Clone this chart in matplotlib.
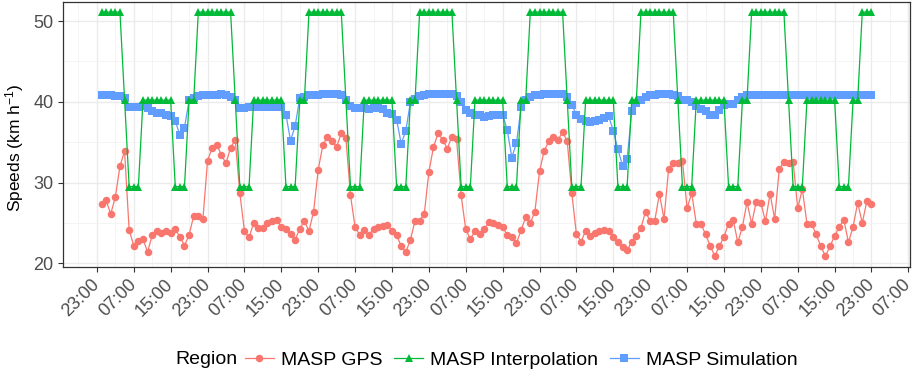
import pandas as pd
import matplotlib
matplotlib.use('Agg')
import matplotlib.pyplot as plt
import matplotlib.dates as mdates
from matplotlib.lines import Line2D

plt.rcParams['font.family'] = ['Liberation Sans', 'DejaVu Sans']
plt.rcParams['mathtext.fontset'] = 'custom'
plt.rcParams['mathtext.rm'] = 'Liberation Sans'
plt.rcParams['mathtext.it'] = 'Liberation Sans:italic'

# hourly timestamps, 7 days
start_time = '2016-01-04 00:00'
n_hours = 168

# MASP GPS speeds (km/h), one row per day
gps = [
    27.4, 27.8, 26.1, 28.2, 32.0, 33.9, 24.1, 22.2, 22.8, 23.0, 21.4, 23.5,
    24.0, 23.7, 24.0, 23.8, 24.2, 23.3, 22.2, 23.5, 25.9, 25.9, 25.5, 32.7,
    34.3, 34.7, 33.4, 32.4, 34.3, 35.3, 28.7, 24.0, 23.2, 25.0, 24.4, 24.4,
    25.0, 25.3, 25.4, 24.5, 24.2, 23.6, 22.9, 24.3, 25.2, 24.0, 26.4, 31.6,
    34.6, 35.7, 35.1, 34.4, 36.1, 35.5, 28.4, 24.5, 23.5, 24.1, 23.5, 24.3,
    24.5, 24.6, 24.8, 24.0, 23.5, 22.1, 21.4, 22.9, 25.3, 25.3, 26.1, 31.3,
    34.4, 36.1, 35.3, 34.2, 35.7, 35.4, 28.4, 24.2, 23.0, 24.0, 23.6, 24.2,
    25.1, 25.0, 24.7, 24.5, 23.5, 23.2, 22.5, 24.1, 25.7, 25.0, 26.4, 31.4,
    33.9, 35.1, 35.6, 35.3, 36.2, 35.2, 28.7, 23.6, 22.7, 24.0, 23.4, 23.7,
    24.0, 24.1, 24.0, 23.2, 22.6, 22.0, 21.6, 22.7, 23.4, 24.4, 26.4, 25.2,
    25.3, 28.6, 25.5, 31.7, 32.4, 32.4, 32.7, 26.8, 28.7, 24.9, 24.9, 23.6,
    22.2, 20.9, 22.1, 23.3, 24.9, 25.4, 22.6, 24.5, 27.6, 24.9, 27.6, 27.5,
    25.2, 28.6, 25.5, 31.7, 32.5, 32.4, 32.6, 26.8, 29.2, 24.9, 24.9, 23.6,
    22.1, 20.9, 22.1, 23.4, 24.5, 25.4, 22.6, 24.5, 27.5, 25.0, 27.7, 27.3,
]

# MASP Interpolation speeds
interp = [
    51.1, 51.1, 51.1, 51.1, 51.1, 40.2, 29.5, 29.5, 29.5, 40.2, 40.2, 40.2,
    40.2, 40.2, 40.2, 40.2, 29.5, 29.5, 29.5, 40.2, 40.2, 51.1, 51.1, 51.1,
    51.1, 51.1, 51.1, 51.1, 51.1, 40.2, 29.5, 29.5, 29.5, 40.2, 40.2, 40.2,
    40.2, 40.2, 40.2, 40.2, 29.5, 29.5, 29.5, 40.2, 40.2, 51.1, 51.1, 51.1,
    51.1, 51.1, 51.1, 51.1, 51.1, 40.2, 29.5, 29.5, 29.5, 40.2, 40.2, 40.2,
    40.2, 40.2, 40.2, 40.2, 29.5, 29.5, 29.5, 40.2, 40.2, 51.1, 51.1, 51.1,
    51.1, 51.1, 51.1, 51.1, 51.1, 40.2, 29.5, 29.5, 29.5, 40.2, 40.2, 40.2,
    40.2, 40.2, 40.2, 40.2, 29.5, 29.5, 29.5, 40.2, 40.2, 51.1, 51.1, 51.1,
    51.1, 51.1, 51.1, 51.1, 51.1, 40.2, 29.5, 29.5, 29.5, 40.2, 40.2, 40.2,
    40.2, 40.2, 40.2, 40.2, 29.5, 29.5, 29.5, 40.2, 40.2, 51.1, 51.1, 51.1,
    51.1, 51.1, 51.1, 51.1, 51.1, 40.2, 29.5, 29.5, 29.5, 40.2, 40.2, 40.2,
    40.2, 40.2, 40.2, 40.2, 29.5, 29.5, 29.5, 40.2, 40.2, 51.1, 51.1, 51.1,
    51.1, 51.1, 51.1, 51.1, 51.1, 40.2, 29.5, 29.5, 29.5, 40.2, 40.2, 40.2,
    40.2, 40.2, 40.2, 40.2, 29.5, 29.5, 29.5, 40.2, 40.2, 51.1, 51.1, 51.1,
]

# MASP Simulation speeds
simul = [
    40.8, 40.8, 40.8, 40.7, 40.7, 40.5, 39.3, 39.3, 39.4, 39.5, 39.2, 38.8,
    38.6, 38.6, 38.4, 38.2, 37.6, 35.9, 36.8, 40.2, 40.5, 40.7, 40.8, 40.8,
    40.9, 40.9, 41.0, 40.9, 40.6, 40.2, 39.2, 39.2, 39.3, 39.3, 39.3, 39.3,
    39.3, 39.4, 39.4, 39.4, 38.4, 35.2, 37.0, 40.5, 40.6, 40.8, 40.9, 40.9,
    41.0, 41.0, 41.0, 41.0, 40.8, 40.2, 39.5, 39.2, 39.2, 39.2, 39.1, 39.2,
    39.2, 39.1, 38.6, 38.5, 37.8, 34.8, 36.4, 40.0, 40.4, 40.7, 40.9, 41.0,
    41.0, 41.0, 41.0, 41.0, 41.0, 40.7, 40.0, 39.0, 38.6, 38.4, 38.4, 38.1,
    38.2, 38.4, 38.4, 38.4, 36.5, 33.1, 34.9, 39.3, 40.2, 40.6, 40.8, 40.9,
    41.0, 41.0, 41.0, 41.0, 41.0, 40.6, 39.6, 38.4, 37.9, 37.6, 37.5, 37.6,
    37.7, 38.0, 38.2, 36.4, 34.1, 32.1, 32.9, 38.8, 39.8, 40.2, 40.6, 40.8,
    40.9, 41.0, 41.0, 41.0, 40.9, 40.7, 40.2, 40.2, 40.0, 39.5, 39.1, 38.8,
    38.4, 38.4, 39.0, 39.6, 39.7, 39.7, 40.2, 40.6, 40.8, 40.8, 40.8, 40.8,
    40.8, 40.8, 40.8, 40.8, 40.8, 40.8, 40.8, 40.8, 40.8, 40.8, 40.8, 40.8,
    40.8, 40.8, 40.8, 40.8, 40.8, 40.8, 40.8, 40.8, 40.8, 40.8, 40.8, 40.8,
]

labels = ['MASP GPS', 'MASP Interpolation', 'MASP Simulation']
colors = ['#F8766D', '#00BA38', '#619CFF']
markers = ['o', '^', 's']
sizes = [5.4, 6.4, 5.4]

times = pd.date_range(start_time, periods=n_hours, freq='h')
df = pd.DataFrame({labels[0]: gps, labels[1]: interp, labels[2]: simul}, index=times)

fig = plt.figure(figsize=(9.17, 3.75), dpi=100)
ax = fig.add_axes([63 / 917, 1 - 266.7 / 375, (910 - 63) / 917, (266.7 - 1.7) / 375])

# blue at the bottom, green on top
for lab, col, mk, ms, z in zip(labels, colors, markers, sizes, [3, 4, 2]):
    ax.plot(df.index, df[lab], color=col, marker=mk, markersize=ms,
            linewidth=0.9, markeredgewidth=0, zorder=z)

# ggplot-like expansion of x range
span = df.index[-1] - df.index[0]
ax.set_xlim(df.index[0] - 0.05 * span, df.index[-1] + 0.05 * span)
ax.set_ylim(19.58, 52.39)

ax.xaxis.set_major_locator(mdates.HourLocator(byhour=[7, 15, 23]))
ax.xaxis.set_minor_locator(mdates.HourLocator(byhour=[3, 11, 19]))
ax.xaxis.set_major_formatter(mdates.DateFormatter('%H:%M'))
ax.set_yticks([20, 30, 40, 50])
ax.set_yticks([25, 35, 45], minor=True)

ax.grid(which='major', color='#EBEBEB', linewidth=1.0, zorder=0)
ax.grid(which='minor', color='#F3F3F3', linewidth=0.6, zorder=0)
ax.set_axisbelow(True)
for sp in ax.spines.values():
    sp.set_color('#333333')
    sp.set_linewidth(0.9)

ax.tick_params(which='major', length=3.5, width=0.8, color='#333333',
               labelcolor='#4D4D4D', labelsize=13)
ax.tick_params(axis='x', which='major', pad=7.5)
ax.tick_params(which='minor', length=0)
for t in ax.get_xticklabels():
    t.set_rotation(45)
    t.set_ha('right')
    t.set_va('center')
    t.set_rotation_mode('anchor')

ax.set_ylabel('Speeds (km h$^{-1}$)', fontsize=12.5, color='black')
ax.yaxis.set_label_coords(-(63 - 26) / 847, 0.45)

# legend at the bottom, title to the left
fig.text(175 / 917, 1 - 360 / 375, 'Region', fontsize=14, va='center', ha='left')
handles = [Line2D([0], [0], color=c, marker=m, markersize=s, linewidth=0.9,
                  markeredgewidth=0) for c, m, s in zip(colors, markers, sizes)]
fig.legend(handles, labels, loc='center', ncol=3, frameon=False, fontsize=14,
           bbox_to_anchor=((242 + 800) / 2 / 917, 1 - 360 / 375),
           handlelength=1.5, handletextpad=0.35, columnspacing=0.6,
           borderaxespad=0)

fig.savefig('out.png', dpi=100)
